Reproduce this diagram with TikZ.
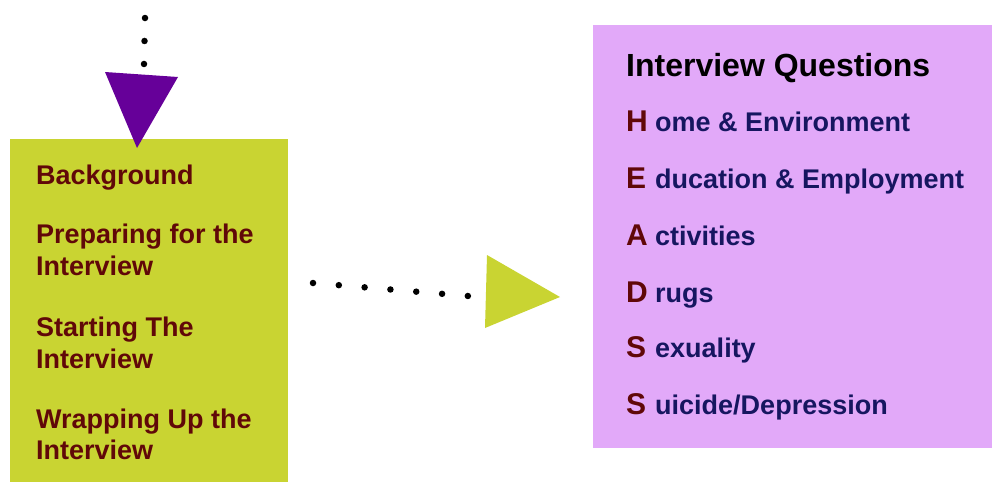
\documentclass[tikz,border=0pt]{standalone}
\usepackage{fontspec}
\setmainfont{Liberation Sans}
\usetikzlibrary{calc}

\definecolor{stagegreen}{RGB}{201,212,50}
\definecolor{headspink}{RGB}{226,169,249}
\definecolor{tippurple}{RGB}{102,0,153}
\definecolor{stagered}{RGB}{96,8,8}
\definecolor{headsnavy}{RGB}{22,22,96}

\begin{document}
\begin{tikzpicture}[x=1pt,y=-1pt,
  item/.style={anchor=base west,inner sep=0pt,font=\fontsize{27}{32}\selectfont\bfseries},
  initial/.style={anchor=base west,inner sep=0pt,font=\fontsize{30}{32}\selectfont\bfseries,text=stagered},
  dots/.style={line width=6.5pt,line cap=round}]
  \useasboundingbox (0,0) rectangle (992,482);

  \node[fill=stagegreen,inner sep=0pt,minimum width=278pt,minimum height=343pt,anchor=north west] (stages) at (10,139) {};
  \node[fill=headspink,inner sep=0pt,minimum width=399pt,minimum height=423pt,anchor=north west] (heads) at (593,25) {};

  \coordinate (vstart) at (145,18);
  \coordinate (vend) at (144,64);
  \draw[dots,dash pattern=on 0pt off 23pt] (vstart) -- (vend);
  \fill[tippurple] (105,72) coordinate (vl) -- (178,77) coordinate (vr) -- (137,148) coordinate (vtip) -- cycle;

  \coordinate (hstart) at (313,283);
  \coordinate (hend) at (468,296);
  \draw[dots,dash pattern=on 0pt off 25.9pt] (hstart) -- (hend);
  \fill[stagegreen] (487,255) coordinate (ht) -- (560,297) coordinate (htip) -- (485,328) coordinate (hb) -- cycle;

  \foreach \y/\t [count=\i] in {184/Background,243/Preparing for the,275/Interview,336/Starting The,368/Interview,428/Wrapping Up the,459/Interview}
    \node[item,text=stagered] (s\i) at (36,\y) {\t};

  \node[item,font=\fontsize{32}{34}\selectfont\bfseries] (title) at (626,76) {Interview Questions};
  \foreach \y/\l/\t [count=\i] in {131/H/{ome \& Environment},188/E/{ducation \& Employment},245/A/{ctivities},302/D/{rugs},357/S/{exuality},414/S/{uicide/Depression}} {
    \node[initial] (l\i) at (626,\y) {\l};
    \node[item,text=headsnavy] (q\i) at (655,\y) {\t};
  }
\end{tikzpicture}
\end{document}
